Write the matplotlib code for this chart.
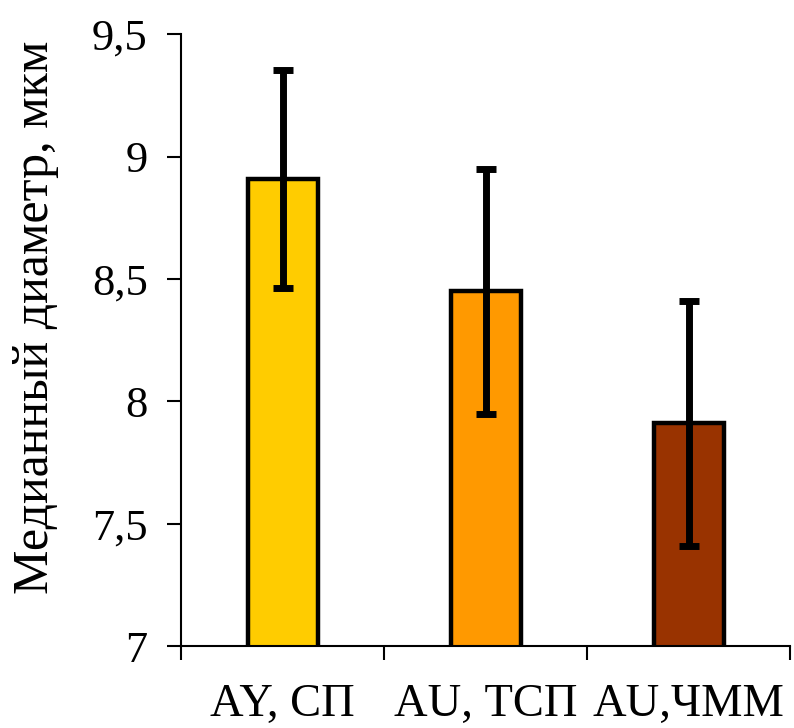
import matplotlib
matplotlib.use("Agg")
import matplotlib.pyplot as plt
from matplotlib.ticker import FuncFormatter, FixedLocator

categories = ["AY, СП", "AU, ТСП", "AU,ЧММ"]
values = [8.91, 8.45, 7.91]
errors = [0.445, 0.50, 0.50]
colors = ["#FFCC00", "#FF9900", "#993300"]
yticks = [7, 7.5, 8, 8.5, 9, 9.5]

plt.rcParams['font.family'] = ['Liberation Serif', 'DejaVu Serif']

fig = plt.figure(figsize=(7.94, 7.28), dpi=100)
ax = fig.add_axes([0.228, 0.1126, 0.767, 0.8404])

x = list(range(len(categories)))
ax.bar(x, values, width=0.345, color=colors, edgecolor="black", linewidth=3.2, zorder=2)
ax.errorbar(x, values, yerr=errors, fmt="none", ecolor="black", elinewidth=5,
            capsize=7, capthick=5, zorder=3)

ax.set_ylim(7, 9.5)
ax.set_xlim(-0.5, 2.5)
ax.set_yticks(yticks)
ax.yaxis.set_major_formatter(FuncFormatter(lambda v, p: (f"{v:g}").replace(".", ",")))

ax.xaxis.set_major_locator(FixedLocator([-0.5, 0.5, 1.5, 2.5]))
ax.xaxis.set_minor_locator(FixedLocator(x))
ax.set_xticklabels([], minor=False)
ax.set_xticklabels(categories, minor=True, fontsize=33.5)
ax.tick_params(axis="x", which="major", direction="out", length=10, width=1.5)
ax.tick_params(axis="x", which="minor", length=0, pad=27)
ax.tick_params(axis="y", direction="out", length=10, width=1.5, labelsize=32, pad=14)

for s in ["top", "right"]:
    ax.spines[s].set_visible(False)
for s in ["left", "bottom"]:
    ax.spines[s].set_linewidth(1.5)

ax.set_ylabel("Медианный диаметр, мкм", fontsize=36)
ax.yaxis.set_label_coords(-0.2, 0.5376)

fig.savefig("out.png", dpi=100)
